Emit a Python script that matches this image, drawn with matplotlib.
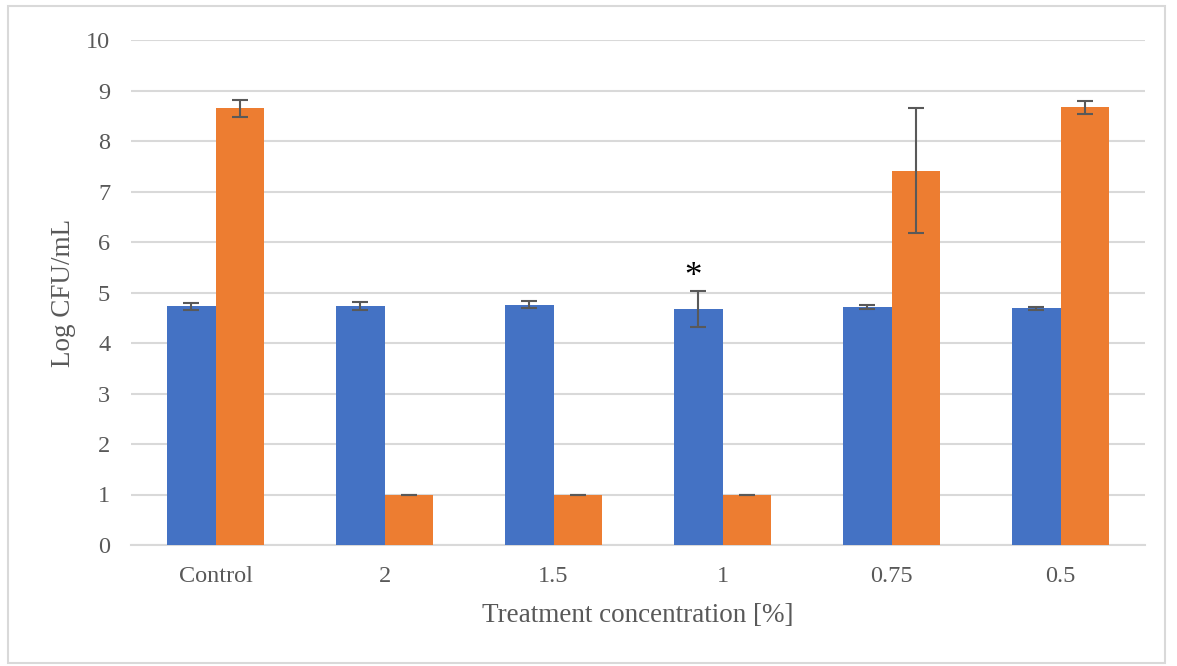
import matplotlib
matplotlib.use("Agg")
import matplotlib.pyplot as plt
from matplotlib.patches import Rectangle
import numpy as np

categories = ["Control", "2", "1.5", "1", "0.75", "0.5"]
blue_vals = [4.73, 4.74, 4.76, 4.67, 4.72, 4.69]
blue_err = [0.07, 0.08, 0.07, 0.35, 0.04, 0.03]
orange_vals = [8.65, 1.0, 1.0, 1.0, 7.41, 8.67]
orange_err = [0.17, 0.0, 0.0, 0.0, 1.24, 0.13]
star_index = 3

BLUE = "#4472C4"
ORANGE = "#ED7D31"
GRID = "#D9D9D9"
TXT = "#595959"

plt.rcParams["font.family"] = ["Liberation Serif", "DejaVu Serif"]

fig = plt.figure(figsize=(11.77, 6.66), dpi=100)
ax = fig.add_axes([131 / 1177, 1 - 545 / 666, (1145 - 131) / 1177, (545 - 40) / 666])

x = np.arange(len(categories))
w = 0.285
ekw = dict(ecolor=TXT, elinewidth=1.5, capsize=5.5, capthick=1.5)
ax.bar(x - w / 2, blue_vals, w, color=BLUE, yerr=blue_err, error_kw=ekw, zorder=3)
ax.bar(x + w / 2, orange_vals, w, color=ORANGE, yerr=orange_err, error_kw=ekw, zorder=3)

ax.text(x[star_index] - w / 2 - 0.03, blue_vals[star_index] + blue_err[star_index] + 0.28,
        "*", ha="center", va="center", fontsize=25, color="black")

ax.set_xlim(-0.5, len(categories) - 0.5)
ax.set_ylim(0, 10)
ax.set_yticks(range(0, 11))
ax.set_xticks(x)
ax.set_xticklabels(categories)
ax.yaxis.grid(True, color=GRID, lw=1.5, zorder=0)
ax.set_axisbelow(True)
for s in ["top", "right", "left"]:
    ax.spines[s].set_visible(False)
ax.spines["bottom"].set_color(GRID)
ax.spines["bottom"].set_linewidth(1.5)
ax.tick_params(axis="both", length=0, labelsize=17.5, colors=TXT)
ax.tick_params(axis="x", pad=15)
ax.tick_params(axis="y", pad=15)
ax.set_xlabel("Treatment concentration [%]", fontsize=19.5, color=TXT, labelpad=12)
ax.set_ylabel("Log CFU/mL", fontsize=19.5, color=TXT, labelpad=7)

fig.patches.append(Rectangle((8 / 1177, 3 / 666), 1157 / 1177, 657 / 666,
                             transform=fig.transFigure, fill=False,
                             edgecolor=GRID, lw=1.5))

fig.savefig("out.png", dpi=100)
